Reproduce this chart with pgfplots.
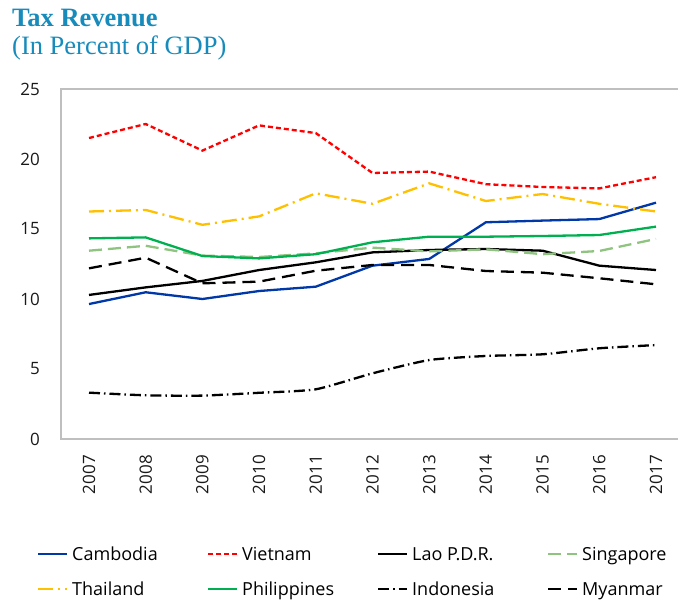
\documentclass[border=0pt]{standalone}
\usepackage{pgfplots}
\pgfplotsset{compat=1.18}
\usepackage{fontspec}
\setmainfont{Open Sans}
\newfontfamily\titlefont{Liberation Serif}
\definecolor{titleblue}{RGB}{23,139,187}
\definecolor{cambodia}{RGB}{0,56,168}
\definecolor{singapore}{RGB}{143,195,128}
\definecolor{thailand}{RGB}{255,192,0}
\definecolor{philippines}{RGB}{0,176,80}
\definecolor{framegray}{RGB}{191,191,191}
\begin{document}
\begin{tikzpicture}
\path[use as bounding box] (0pt,0pt) rectangle (678pt,602pt);
\node[anchor=base west, inner sep=0pt, font=\titlefont\bfseries\fontsize{26.5}{30}\selectfont, text=titleblue] at (12pt,575pt) {Tax Revenue};
\node[anchor=base west, inner sep=0pt, font=\titlefont\fontsize{26.5}{30}\selectfont, text=titleblue] at (12pt,547pt) {(In Percent of GDP)};
\begin{axis}[
  name=ax,
  at={(61pt,163pt)}, anchor=south west,
  scale only axis, width=617pt, height=350pt,
  xmin=-0.494, xmax=10.388, ymin=0, ymax=25,
  axis line style={draw=none},
  xtick={0,1,2,3,4,5,6,7,8,9,10},
  xticklabels={2007,2008,2009,2010,2011,2012,2013,2014,2015,2016,2017},
  ytick={0,5,10,15,20,25},
  major tick length=0pt,
  tick label style={font=\fontsize{17}{20}\selectfont, text=black!90},
  /pgf/number format/assume math mode=true,
  xticklabel style={rotate=90, anchor=east, inner sep=0pt},
  xticklabel shift=16pt,
  yticklabel style={anchor=east, inner sep=0pt},
  yticklabel shift=21pt,
  legend columns=4,
  legend style={at={(-0.0389,-0.31)}, anchor=north west, draw=none, fill=none,
    inner sep=0pt, row sep=18pt, font=\fontsize{18}{21}\selectfont,
    nodes={inner sep=0pt, text height=13pt, text depth=4pt},
    cells={anchor=west},
    /tikz/every odd column/.append style={column sep=4pt}},
  legend image code/.code={\draw[#1, line width=2pt] (0pt,2pt) -- (29pt,2pt);},
  every axis plot/.append style={line width=2.3pt},
]
\addplot[cambodia] coordinates {(0,9.64)(1,10.48)(2,10.0)(3,10.57)(4,10.88)(5,12.38)(6,12.86)(7,15.48)(8,15.6)(9,15.71)(10,16.88)};
\addlegendentry{\makebox[135pt][l]{Cambodia}}
\addplot[red, dash pattern=on 5pt off 3pt] coordinates {(0,21.5)(1,22.5)(2,20.6)(3,22.4)(4,21.85)(5,19.0)(6,19.1)(7,18.2)(8,18.0)(9,17.9)(10,18.7)};
\addlegendentry{\makebox[135pt][l]{Vietnam}}
\addplot[black] coordinates {(0,10.29)(1,10.83)(2,11.29)(3,12.07)(4,12.62)(5,13.33)(6,13.5)(7,13.57)(8,13.45)(9,12.38)(10,12.07)};
\addlegendentry{\makebox[135pt][l]{Lao P.D.R.}}
\addplot[singapore, dash pattern=on 13pt off 6pt] coordinates {(0,13.45)(1,13.8)(2,13.1)(3,13.0)(4,13.26)(5,13.67)(6,13.4)(7,13.55)(8,13.2)(9,13.43)(10,14.29)};
\addlegendentry{\makebox[135pt][l]{Singapore}}
\addplot[thailand, dash pattern=on 15pt off 5pt on 2pt off 5pt] coordinates {(0,16.25)(1,16.36)(2,15.3)(3,15.9)(4,17.55)(5,16.8)(6,18.26)(7,17.0)(8,17.5)(9,16.8)(10,16.25)};
\addlegendentry{\makebox[135pt][l]{Thailand}}
\addplot[philippines] coordinates {(0,14.33)(1,14.4)(2,13.07)(3,12.9)(4,13.2)(5,14.05)(6,14.45)(7,14.45)(8,14.5)(9,14.57)(10,15.17)};
\addlegendentry{\makebox[135pt][l]{Philippines}}
\addplot[black, smooth, tension=0.35, dash pattern=on 11pt off 4pt on 1.5pt off 4pt] coordinates {(0,3.31)(1,3.12)(2,3.1)(3,3.3)(4,3.55)(5,4.69)(6,5.64)(7,5.93)(8,6.05)(9,6.48)(10,6.71)};
\addlegendentry{\makebox[135pt][l]{Indonesia}}
\addplot[black, dash pattern=on 13pt off 7pt] coordinates {(0,12.19)(1,12.95)(2,11.12)(3,11.24)(4,12.02)(5,12.43)(6,12.43)(7,12.0)(8,11.88)(9,11.48)(10,11.05)};
\addlegendentry{\makebox[135pt][l]{Myanmar}}
\end{axis}
\draw[framegray, line width=1.3pt] (ax.north east) -- (ax.north west) -- (ax.south west) -- (ax.south east);
\end{tikzpicture}
\end{document}
